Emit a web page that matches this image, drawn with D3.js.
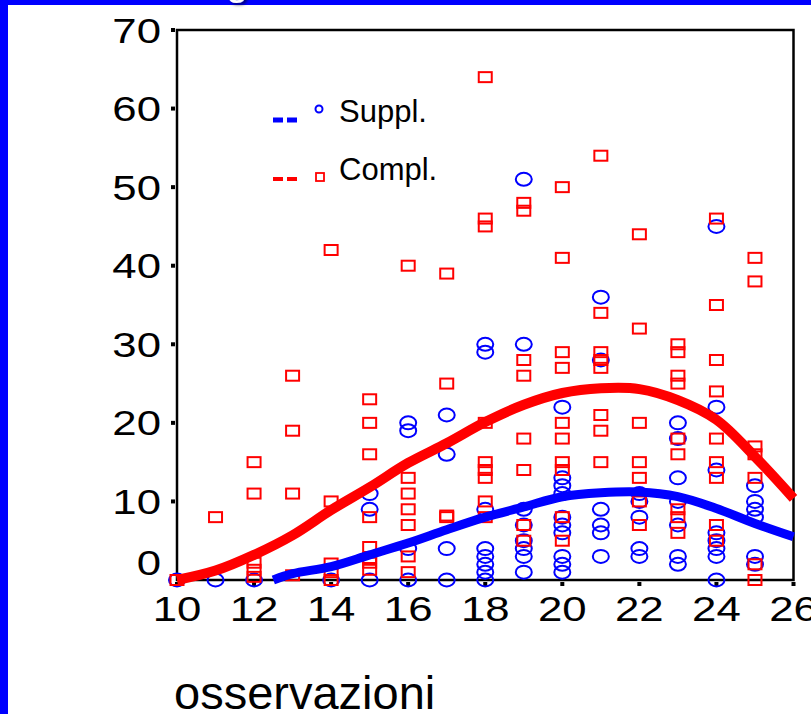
<!DOCTYPE html>
<html>
<head>
<meta charset="utf-8">
<script src="https://cdn.jsdelivr.net/npm/d3@7"></script>
<style>
  html, body { margin: 0; padding: 0; background: #0000ff; }
  svg { display: block; }
</style>
</head>
<body>
<svg id="chart" width="811" height="714"></svg>
<script>
// ---------- data ----------
const xCategories = [10, 11, 12, 13, 14, 15, 16, 17, 18, 19, 20, 21, 22, 23, 24, 25];
const xTickLabels = [10, 12, 14, 16, 18, 20, 22, 24, 26];
const yTickLabels = [0, 10, 20, 30, 40, 50, 60, 70];

// Suppl. observations (circles), one list per x category
const supplValues = [
  [0],
  [0],
  [0],
  [],
  [0],
  [11, 9, 0],
  [20, 19, 4, 0],
  [21, 16, 4, 0],
  [30, 29, 9, 4, 3, 2, 1, 0],
  [51, 30, 9, 7, 5, 4, 3, 1],
  [22, 13, 12, 11, 8, 7, 6, 3, 2, 1],
  [36, 28, 9, 7, 6, 3],
  [11, 10, 8, 4, 3],
  [20, 18, 13, 10, 7, 3, 2],
  [45, 22, 14, 6, 5, 4, 3, 0],
  [12, 10, 9, 8, 3, 2]
];

// Compl. observations (squares), one list per x category
const complValues = [
  [0],
  [8],
  [15, 11, 2.2, 1.3, 0.4],
  [26, 19, 11, 0.6],
  [42, 10, 2.1, 1, 0],
  [23, 20, 16, 8, 4.2, 2.8, 2.2, 1.3],
  [40, 13, 11, 9, 7, 3, 1],
  [39, 25, 8.2, 8],
  [64, 46, 45, 20, 15, 14, 13, 10, 8],
  [48, 47, 28, 26, 18, 14, 7, 5],
  [50, 41, 29, 27, 20, 18, 15, 14, 8, 5],
  [54, 34, 29, 28, 27, 21, 19, 15],
  [44, 32, 20, 15, 13, 10, 7],
  [30, 29, 26, 25, 18, 16, 9, 8, 6],
  [46, 35, 28, 24, 18, 15, 13, 7, 5],
  [41, 38, 17, 16, 13, 2, 0]
];

// fitted curves
const complFitX = [10, 11, 12, 13, 14, 15, 16, 17, 18, 19, 20, 21, 22, 23, 24, 25, 26];
const complFitY = [0, 1.2, 3.2, 5.7, 8.9, 11.8, 14.9, 17.4, 20.1, 22.3, 23.8, 24.4, 24.3, 22.9, 20.4, 15.7, 10.4];
const supplFitX = [12.5, 13, 14, 15, 16, 17, 18, 19, 20, 21, 22, 23, 24, 25, 26];
const supplFitY = [0, 0.8, 1.7, 3.2, 4.7, 6.4, 8.0, 9.3, 10.6, 11.1, 11.2, 10.6, 9.1, 7.2, 5.5];

const legendLabels = ["Suppl.", "Compl."];
const xAxisTitle = "osservazioni";
const titleFragment = "g";

// ---------- drawing ----------
const svg = d3.select("#chart");
const BLUE = "#0000ff", RED = "#ff0000";
const font = "Liberation Sans, Arial, Helvetica, sans-serif";
const DIGIT_STRETCH = 1.25;

// white slide area inside blue border
svg.append("rect").attr("x", 8).attr("y", 5).attr("width", 811).attr("height", 714).attr("fill", "#ffffff");

// title fragment (white text with shadow on blue band)
const defs = svg.append("defs");
const f = defs.append("filter").attr("id", "sh").attr("x", "-50%").attr("y", "-50%").attr("width", "200%").attr("height", "200%");
f.append("feDropShadow").attr("dx", 2).attr("dy", 2).attr("stdDeviation", 1.5).attr("flood-color", "#000").attr("flood-opacity", 0.6);
svg.append("text").attr("x", 226).attr("y", -5)
  .attr("font-family", font).attr("font-size", 40)
  .attr("fill", "#ffffff").attr("filter", "url(#sh)").text(titleFragment);

const x = d3.scaleLinear().domain([10, 26]).range([177, 793.5]);
const y = d3.scaleLinear().domain([0, 70]).range([580, 30]);

// frame
svg.append("rect").attr("x", x(10)).attr("y", y(70))
  .attr("width", x(26) - x(10)).attr("height", y(0) - y(70))
  .attr("fill", "none").attr("stroke", "#000").attr("stroke-width", 2.5);

// y axis: tick squares + labels
const yAxisG = svg.append("g");
yAxisG.selectAll("rect.yt").data(yTickLabels.filter(d => d > 0)).join("rect")
  .attr("x", 171).attr("y", d => y(d) - 2).attr("width", 4).attr("height", 4).attr("fill", "#000");
yAxisG.selectAll("text").data(yTickLabels).join("text")
  .attr("transform", d => `translate(161,${d === 0 ? y(d) - 18 : y(d)}) scale(${DIGIT_STRETCH},1)`)
  .attr("dy", "0.36em")
  .attr("text-anchor", "end")
  .attr("font-family", font).attr("font-size", 35)
  .attr("fill", "#000").text(d => d);

// x axis: tick squares + labels
const xAxisG = svg.append("g");
xAxisG.selectAll("rect").data(xTickLabels).join("rect")
  .attr("x", d => x(d) - 2).attr("y", 582).attr("width", 4).attr("height", 4).attr("fill", "#000");
xAxisG.selectAll("text").data(xTickLabels).join("text")
  .attr("transform", d => `translate(${x(d)},621) scale(${DIGIT_STRETCH},1)`)
  .attr("text-anchor", "middle")
  .attr("font-family", font).attr("font-size", 35)
  .attr("fill", "#000").text(d => d);

// x axis title
svg.append("text").attr("x", 174).attr("y", 709)
  .attr("font-family", font).attr("font-size", 47)
  .attr("fill", "#000").text(xAxisTitle);

// points
const complPts = [], supplPts = [];
xCategories.forEach((c, i) => {
  complValues[i].forEach(v => complPts.push({ x: c, y: v }));
  supplValues[i].forEach(v => supplPts.push({ x: c, y: v }));
});

const plot = svg.append("g");

plot.selectAll("ellipse").data(supplPts).join("ellipse")
  .attr("cx", d => x(d.x)).attr("cy", d => y(d.y))
  .attr("rx", 8).attr("ry", 6.5)
  .attr("fill", "none").attr("stroke", BLUE).attr("stroke-width", 2);

plot.selectAll("rect").data(complPts).join("rect")
  .attr("x", d => x(d.x) - 6.5).attr("y", d => y(d.y) - 5)
  .attr("width", 13).attr("height", 10)
  .attr("fill", "none").attr("stroke", RED).attr("stroke-width", 2);

// fitted lines
const line = d3.line().x(d => x(d[0])).y(d => y(d[1])).curve(d3.curveCatmullRom);
plot.append("path").datum(complFitX.map((v, i) => [v, complFitY[i]]))
  .attr("d", line).attr("fill", "none").attr("stroke", RED).attr("stroke-width", 10);
plot.append("path").datum(supplFitX.map((v, i) => [v, supplFitY[i]]))
  .attr("d", line).attr("fill", "none").attr("stroke", BLUE).attr("stroke-width", 9);

// legend
const lg = svg.append("g");
lg.append("line").attr("x1", 273).attr("x2", 299).attr("y1", 120).attr("y2", 120)
  .attr("stroke", BLUE).attr("stroke-width", 5).attr("stroke-dasharray", "10,4");
lg.append("circle").attr("cx", 319).attr("cy", 109).attr("r", 3.5)
  .attr("fill", "none").attr("stroke", BLUE).attr("stroke-width", 2);
lg.append("text").attr("x", 339).attr("y", 122)
  .attr("font-family", font).attr("font-size", 31).attr("fill", "#000").text(legendLabels[0]);

lg.append("line").attr("x1", 273).attr("x2", 299).attr("y1", 179).attr("y2", 179)
  .attr("stroke", RED).attr("stroke-width", 4).attr("stroke-dasharray", "10,4");
lg.append("rect").attr("x", 316).attr("y", 173).attr("width", 8).attr("height", 8)
  .attr("fill", "none").attr("stroke", RED).attr("stroke-width", 1.8);
lg.append("text").attr("x", 339).attr("y", 180)
  .attr("font-family", font).attr("font-size", 31).attr("fill", "#000").text(legendLabels[1]);
</script>
</body>
</html>
